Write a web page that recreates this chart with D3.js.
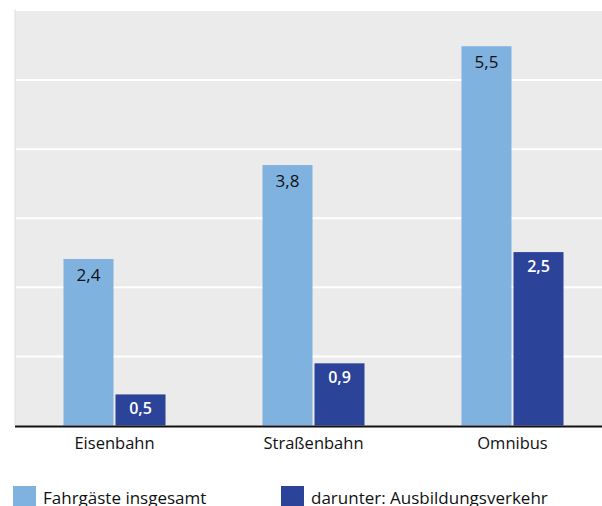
<!DOCTYPE html>
<html><head><meta charset="utf-8">
<script src="https://cdn.jsdelivr.net/npm/d3@7"></script>
<style>body{margin:0;background:#fff}svg{display:block}</style>
</head><body>
<script>
const categories = ["Eisenbahn", "Straßenbahn", "Omnibus"];
const seriesNames = ["Fahrgäste insgesamt", "darunter: Ausbildungsverkehr"];
// bar heights
const total = [2.41, 3.77, 5.49];
const training = [0.45, 0.9, 2.51];
// printed value labels
const totalLabels = ["2,4", "3,8", "5,5"];
const trainingLabels = ["0,5", "0,9", "2,5"];
const yTicks = [0, 1, 2, 3, 4, 5, 6];
const colors = ["#80b2e0", "#2b4399"];

const W = 602, H = 506;
const svg = d3.select("body").append("svg").attr("width", W).attr("height", H);
const font = "'Open Sans', sans-serif";

const x0 = 15, x1 = 612, yTop = 11, yBase = 425.5;
const x = d3.scaleBand().domain(categories).range([x0, x1]);
const y = d3.scaleLinear().domain([0, 6]).range([yBase, yTop]);

svg.append("rect").attr("x", x0).attr("y", y(6)).attr("width", x1 - x0).attr("height", yBase - y(6)).attr("fill", "#ebebeb");
svg.append("line").attr("x1", x0).attr("x2", x0).attr("y1", 9).attr("y2", yBase).attr("stroke", "#e0e0e0").attr("stroke-width", 1);

svg.append("g").selectAll("line").data(yTicks.filter(d => d > 0 && d < 6)).join("line")
  .attr("x1", x0 + 1).attr("x2", x1).attr("y1", d => y(d)).attr("y2", d => y(d))
  .attr("stroke", "#fff").attr("stroke-width", 2);

const barW = 50, gap = 2;
const series = [total, training];
const labels = [totalLabels, trainingLabels];
series.forEach((vals, si) => {
  const off = si === 0 ? -barW - gap / 2 : gap / 2;
  const g = svg.append("g");
  g.selectAll("rect").data(categories).join("rect")
    .attr("x", (c) => x(c) + x.bandwidth() / 2 + off)
    .attr("y", (c, i) => y(vals[i]))
    .attr("width", barW)
    .attr("height", (c, i) => y(0) - y(vals[i]))
    .attr("fill", colors[si]);
  g.selectAll("text").data(categories).join("text")
    .attr("x", (c) => x(c) + x.bandwidth() / 2 + off + barW / 2)
    .attr("y", (c, i) => y(vals[i]) + (si === 0 ? 22 : 20))
    .attr("text-anchor", "middle")
    .attr("font-family", font).attr("font-size", si === 0 ? 17 : 16)
    .attr("font-weight", si === 0 ? 400 : 600)
    .attr("fill", si === 0 ? "#111" : "#fff")
    .text((c, i) => labels[si][i]);
});

svg.append("line").attr("x1", x0).attr("x2", x1).attr("y1", yBase + 1).attr("y2", yBase + 1)
  .attr("stroke", "#111").attr("stroke-width", 2);

const xAxis = svg.append("g").attr("transform", `translate(0,${yBase})`)
  .call(d3.axisBottom(x).tickSize(0).tickPadding(0));
xAxis.select(".domain").remove();
xAxis.selectAll("text").attr("font-family", font).attr("font-size", 16.5).attr("fill", "#111")
  .attr("dy", null).attr("y", 23.5);

const leg = svg.append("g");
const legX = [13, 281];
seriesNames.forEach((n, i) => {
  leg.append("rect").attr("x", legX[i]).attr("y", 486).attr("width", 23).attr("height", 23).attr("fill", colors[i]);
  leg.append("text").attr("x", legX[i] + 30).attr("y", 504).attr("font-family", font).attr("font-size", 17)
    .attr("fill", "#111").text(n);
});
</script>
</body></html>
